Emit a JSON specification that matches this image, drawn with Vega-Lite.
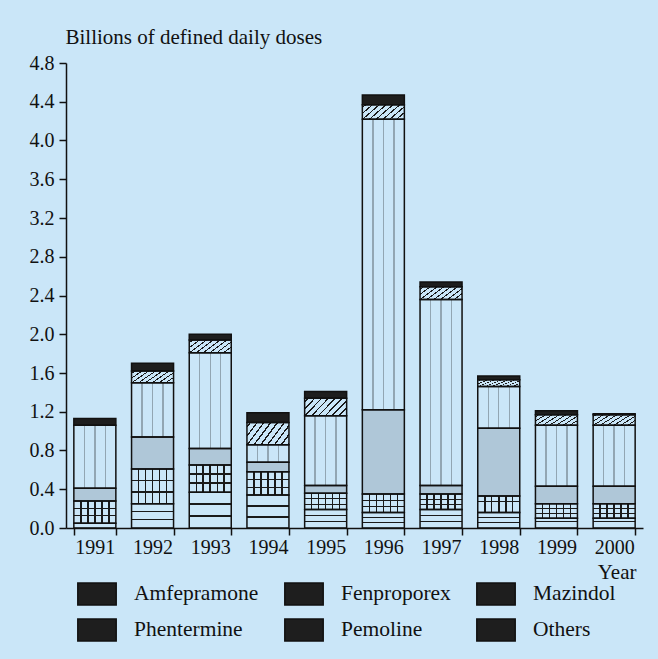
{
  "$schema": "https://vega.github.io/schema/vega-lite/v6.json",
  "autosize": "none",
  "width": 577,
  "height": 465,
  "padding": {"left": 66, "top": 63, "right": 15, "bottom": 131},
  "background": "#cae6f8",
  "config": {
    "view": {"stroke": null},
    "font": "Liberation Serif",
    "axis": {"labelFont": "Liberation Serif", "titleFont": "Liberation Serif", "labelColor": "#111", "titleColor": "#111", "domainColor": "#111", "tickColor": "#111", "domainWidth": 1.5, "tickWidth": 1.5, "tickSize": 7, "grid": false, "titleFontWeight": "normal"}
  },
  "data": {
    "values": [
      {"year": "1991", "drug": "Amfepramone", "value": 0.05},
      {"year": "1991", "drug": "Fenproporex", "value": 0.23},
      {"year": "1991", "drug": "Mazindol", "value": 0.13},
      {"year": "1991", "drug": "Phentermine", "value": 0.65},
      {"year": "1991", "drug": "Others", "value": 0.07},
      {"year": "1992", "drug": "Amfepramone", "value": 0.25},
      {"year": "1992", "drug": "Fenproporex", "value": 0.36},
      {"year": "1992", "drug": "Mazindol", "value": 0.33},
      {"year": "1992", "drug": "Phentermine", "value": 0.56},
      {"year": "1992", "drug": "Pemoline", "value": 0.12},
      {"year": "1992", "drug": "Others", "value": 0.08},
      {"year": "1993", "drug": "Amfepramone", "value": 0.37},
      {"year": "1993", "drug": "Fenproporex", "value": 0.28},
      {"year": "1993", "drug": "Mazindol", "value": 0.17},
      {"year": "1993", "drug": "Phentermine", "value": 0.99},
      {"year": "1993", "drug": "Pemoline", "value": 0.13},
      {"year": "1993", "drug": "Others", "value": 0.06},
      {"year": "1994", "drug": "Amfepramone", "value": 0.34},
      {"year": "1994", "drug": "Fenproporex", "value": 0.24},
      {"year": "1994", "drug": "Mazindol", "value": 0.10},
      {"year": "1994", "drug": "Phentermine", "value": 0.18},
      {"year": "1994", "drug": "Pemoline", "value": 0.23},
      {"year": "1994", "drug": "Others", "value": 0.10},
      {"year": "1995", "drug": "Amfepramone", "value": 0.19},
      {"year": "1995", "drug": "Fenproporex", "value": 0.17},
      {"year": "1995", "drug": "Mazindol", "value": 0.08},
      {"year": "1995", "drug": "Phentermine", "value": 0.72},
      {"year": "1995", "drug": "Pemoline", "value": 0.18},
      {"year": "1995", "drug": "Others", "value": 0.07},
      {"year": "1996", "drug": "Amfepramone", "value": 0.16},
      {"year": "1996", "drug": "Fenproporex", "value": 0.19},
      {"year": "1996", "drug": "Mazindol", "value": 0.87},
      {"year": "1996", "drug": "Phentermine", "value": 3.00},
      {"year": "1996", "drug": "Pemoline", "value": 0.15},
      {"year": "1996", "drug": "Others", "value": 0.10},
      {"year": "1997", "drug": "Amfepramone", "value": 0.19},
      {"year": "1997", "drug": "Fenproporex", "value": 0.16},
      {"year": "1997", "drug": "Mazindol", "value": 0.09},
      {"year": "1997", "drug": "Phentermine", "value": 1.92},
      {"year": "1997", "drug": "Pemoline", "value": 0.13},
      {"year": "1997", "drug": "Others", "value": 0.05},
      {"year": "1998", "drug": "Amfepramone", "value": 0.16},
      {"year": "1998", "drug": "Fenproporex", "value": 0.17},
      {"year": "1998", "drug": "Mazindol", "value": 0.70},
      {"year": "1998", "drug": "Phentermine", "value": 0.43},
      {"year": "1998", "drug": "Pemoline", "value": 0.07},
      {"year": "1998", "drug": "Others", "value": 0.04},
      {"year": "1999", "drug": "Amfepramone", "value": 0.10},
      {"year": "1999", "drug": "Fenproporex", "value": 0.15},
      {"year": "1999", "drug": "Mazindol", "value": 0.18},
      {"year": "1999", "drug": "Phentermine", "value": 0.63},
      {"year": "1999", "drug": "Pemoline", "value": 0.11},
      {"year": "1999", "drug": "Others", "value": 0.04},
      {"year": "2000", "drug": "Amfepramone", "value": 0.10},
      {"year": "2000", "drug": "Fenproporex", "value": 0.15},
      {"year": "2000", "drug": "Mazindol", "value": 0.18},
      {"year": "2000", "drug": "Phentermine", "value": 0.63},
      {"year": "2000", "drug": "Pemoline", "value": 0.11},
      {"year": "2000", "drug": "Others", "value": 0.01}
    ]
  },
  "transform": [
    {"stack": "value", "groupby": ["year"], "as": ["v0", "v1"]}
  ],
  "encoding": {
    "x": {
      "field": "year", "type": "ordinal",
      "scale": {"paddingInner": 0.272, "paddingOuter": 0.136},
      "axis": {"title": "Year", "labelAngle": 0, "labelFontSize": 20, "labelPadding": 2, "tickBand": "extent", "titleFontSize": 21, "titleAnchor": "end", "titleAlign": "right", "titleX": 570, "titleY": 50, "titleBaseline": "alphabetic"}
    },
    "y": {
      "field": "v0", "type": "quantitative",
      "scale": {"domain": [0, 4.8], "nice": false},
      "axis": {"title": "Billions of defined daily doses", "values": [0, 0.4, 0.8, 1.2, 1.6, 2.0, 2.4, 2.8, 3.2, 3.6, 4.0, 4.4, 4.8], "format": ".1f", "labelFontSize": 20, "labelPadding": 5, "titleFontSize": 21, "titleAngle": 0, "titleAlign": "left", "titleX": -1, "titleY": -20, "titleBaseline": "alphabetic"}
    },
    "y2": {"field": "v1"}
  },
  "layer": [
    {
      "transform": [{"filter": "datum.drug === 'Amfepramone'"}],
      "mark": {"type": "bar", "strokeWidth": 0},
      "encoding": {
        "fill": {"value": {"gradient": "linear", "x1": 0, "y1": 0, "x2": 0, "y2": 1, "stops": [
          {"offset": 0, "color": "rgba(0,0,0,0)"}, {"offset": 0.31, "color": "rgba(0,0,0,0)"}, {"offset": 0.31, "color": "#1a1a1a"}, {"offset": 0.36, "color": "#1a1a1a"}, {"offset": 0.36, "color": "rgba(0,0,0,0)"}, {"offset": 0.64, "color": "rgba(0,0,0,0)"}, {"offset": 0.64, "color": "#1a1a1a"}, {"offset": 0.69, "color": "#1a1a1a"}, {"offset": 0.69, "color": "rgba(0,0,0,0)"}, {"offset": 1, "color": "rgba(0,0,0,0)"}
        ]}}
      }
    },
    {
      "transform": [{"filter": "datum.drug === 'Fenproporex'"}],
      "mark": {"type": "bar", "strokeWidth": 0},
      "encoding": {
        "fill": {"value": {"gradient": "linear", "x1": 0, "y1": 0, "x2": 1, "y2": 0, "stops": [
          {"offset": 0, "color": "rgba(0,0,0,0)"}, {"offset": 0.149, "color": "rgba(0,0,0,0)"}, {"offset": 0.149, "color": "#1a1a1a"}, {"offset": 0.185, "color": "#1a1a1a"}, {"offset": 0.185, "color": "rgba(0,0,0,0)"},
          {"offset": 0.315, "color": "rgba(0,0,0,0)"}, {"offset": 0.315, "color": "#1a1a1a"}, {"offset": 0.351, "color": "#1a1a1a"}, {"offset": 0.351, "color": "rgba(0,0,0,0)"},
          {"offset": 0.482, "color": "rgba(0,0,0,0)"}, {"offset": 0.482, "color": "#1a1a1a"}, {"offset": 0.518, "color": "#1a1a1a"}, {"offset": 0.518, "color": "rgba(0,0,0,0)"},
          {"offset": 0.649, "color": "rgba(0,0,0,0)"}, {"offset": 0.649, "color": "#1a1a1a"}, {"offset": 0.685, "color": "#1a1a1a"}, {"offset": 0.685, "color": "rgba(0,0,0,0)"},
          {"offset": 0.815, "color": "rgba(0,0,0,0)"}, {"offset": 0.815, "color": "#1a1a1a"}, {"offset": 0.851, "color": "#1a1a1a"}, {"offset": 0.851, "color": "rgba(0,0,0,0)"},
          {"offset": 1, "color": "rgba(0,0,0,0)"}
        ]}}
      }
    },
    {
      "transform": [{"filter": "datum.drug === 'Fenproporex'"}],
      "mark": {"type": "bar", "strokeWidth": 0},
      "encoding": {
        "fill": {"value": {"gradient": "linear", "x1": 0, "y1": 0, "x2": 0, "y2": 1, "stops": [
          {"offset": 0, "color": "rgba(0,0,0,0)"}, {"offset": 0.308, "color": "rgba(0,0,0,0)"}, {"offset": 0.308, "color": "#1a1a1a"}, {"offset": 0.358, "color": "#1a1a1a"}, {"offset": 0.358, "color": "rgba(0,0,0,0)"},
          {"offset": 0.642, "color": "rgba(0,0,0,0)"}, {"offset": 0.642, "color": "#1a1a1a"}, {"offset": 0.692, "color": "#1a1a1a"}, {"offset": 0.692, "color": "rgba(0,0,0,0)"},
          {"offset": 1, "color": "rgba(0,0,0,0)"}
        ]}}
      }
    },
    {
      "transform": [{"filter": "datum.drug === 'Phentermine'"}],
      "mark": {"type": "bar", "strokeWidth": 0},
      "encoding": {
        "fill": {"value": {"gradient": "linear", "x1": 0, "y1": 0, "x2": 1, "y2": 0, "stops": [
          {"offset": 0, "color": "rgba(0,0,0,0)"}, {"offset": 0.234, "color": "rgba(0,0,0,0)"}, {"offset": 0.234, "color": "rgba(0,0,0,0.28)"}, {"offset": 0.266, "color": "rgba(0,0,0,0.28)"}, {"offset": 0.266, "color": "rgba(0,0,0,0)"},
          {"offset": 0.484, "color": "rgba(0,0,0,0)"}, {"offset": 0.484, "color": "rgba(0,0,0,0.28)"}, {"offset": 0.516, "color": "rgba(0,0,0,0.28)"}, {"offset": 0.516, "color": "rgba(0,0,0,0)"},
          {"offset": 0.734, "color": "rgba(0,0,0,0)"}, {"offset": 0.734, "color": "rgba(0,0,0,0.28)"}, {"offset": 0.766, "color": "rgba(0,0,0,0.28)"}, {"offset": 0.766, "color": "rgba(0,0,0,0)"},
          {"offset": 1, "color": "rgba(0,0,0,0)"}
        ]}}
      }
    },
    {
      "transform": [{"filter": "datum.drug === 'Pemoline'"}],
      "mark": {"type": "bar", "strokeWidth": 0},
      "encoding": {
        "fill": {"value": {"gradient": "linear", "x1": 0, "y1": 0, "x2": 1.4, "y2": 0.56, "stops": [
          {"offset": 0, "color": "rgba(0,0,0,0)"},
          {"offset": 0.038, "color": "rgba(0,0,0,0)"}, {"offset": 0.038, "color": "#1a1a1a"}, {"offset": 0.062, "color": "#1a1a1a"}, {"offset": 0.062, "color": "rgba(0,0,0,0)"},
          {"offset": 0.138, "color": "rgba(0,0,0,0)"}, {"offset": 0.138, "color": "#1a1a1a"}, {"offset": 0.162, "color": "#1a1a1a"}, {"offset": 0.162, "color": "rgba(0,0,0,0)"},
          {"offset": 0.238, "color": "rgba(0,0,0,0)"}, {"offset": 0.238, "color": "#1a1a1a"}, {"offset": 0.262, "color": "#1a1a1a"}, {"offset": 0.262, "color": "rgba(0,0,0,0)"},
          {"offset": 0.338, "color": "rgba(0,0,0,0)"}, {"offset": 0.338, "color": "#1a1a1a"}, {"offset": 0.362, "color": "#1a1a1a"}, {"offset": 0.362, "color": "rgba(0,0,0,0)"},
          {"offset": 0.438, "color": "rgba(0,0,0,0)"}, {"offset": 0.438, "color": "#1a1a1a"}, {"offset": 0.462, "color": "#1a1a1a"}, {"offset": 0.462, "color": "rgba(0,0,0,0)"},
          {"offset": 0.538, "color": "rgba(0,0,0,0)"}, {"offset": 0.538, "color": "#1a1a1a"}, {"offset": 0.562, "color": "#1a1a1a"}, {"offset": 0.562, "color": "rgba(0,0,0,0)"},
          {"offset": 0.638, "color": "rgba(0,0,0,0)"}, {"offset": 0.638, "color": "#1a1a1a"}, {"offset": 0.662, "color": "#1a1a1a"}, {"offset": 0.662, "color": "rgba(0,0,0,0)"},
          {"offset": 0.738, "color": "rgba(0,0,0,0)"}, {"offset": 0.738, "color": "#1a1a1a"}, {"offset": 0.762, "color": "#1a1a1a"}, {"offset": 0.762, "color": "rgba(0,0,0,0)"},
          {"offset": 0.838, "color": "rgba(0,0,0,0)"}, {"offset": 0.838, "color": "#1a1a1a"}, {"offset": 0.862, "color": "#1a1a1a"}, {"offset": 0.862, "color": "rgba(0,0,0,0)"},
          {"offset": 1, "color": "rgba(0,0,0,0)"}
        ]}}
      }
    },
    {
      "transform": [{"filter": "datum.drug === 'Mazindol'"}],
      "mark": {"type": "bar", "strokeWidth": 0, "fill": "#afc7d8"},
      "encoding": {}
    },
    {
      "transform": [{"filter": "datum.drug === 'Others'"}],
      "mark": {"type": "bar", "strokeWidth": 0, "fill": "#1e1e1e"},
      "encoding": {}
    },
    {
      "mark": {"type": "bar", "strokeWidth": 1.5},
      "encoding": {
        "fill": {
          "field": "drug", "type": "nominal", "legend": null,
          "scale": {
            "domain": ["Amfepramone", "Phentermine", "Fenproporex", "Pemoline", "Mazindol", "Others", "none"],
            "range": ["rgba(0,0,0,0)", "rgba(0,0,0,0)", "rgba(0,0,0,0)", "rgba(0,0,0,0)", "rgba(0,0,0,0)", "rgba(0,0,0,0)", "rgba(0,0,0,0)"]
          }
        },
        "stroke": {
          "field": "drug", "type": "nominal",
          "scale": {
            "domain": ["Amfepramone", "Phentermine", "Fenproporex", "Pemoline", "Mazindol", "Others"],
            "range": ["#111111", "#111111", "#111111", "#111111", "#111111", "#111111"]
          },
          "legend": {
            "title": null, "orient": "none", "legendX": 19, "legendY": 519, "columns": 3, "gridAlign": "each",
            "symbolType": "M-1.745,-1H1.745V1H-1.745Z", "symbolSize": 484, "symbolStrokeWidth": 1.5,
            "symbolFillColor": "transparent",
            "labelFont": "Liberation Serif", "labelFontSize": 21.5, "labelColor": "#111", "labelOffset": 25, "labelLimit": 400,
            "columnPadding": 22, "rowPadding": 8, "padding": 0,
            "encode": {"symbols": {"update": {
              "fill": {"condition": [
                {"test": "datum.value === 'Amfepramone'", "value": {"gradient": "linear", "x1": 0, "y1": 0, "x2": 0, "y2": 1, "stops": [
                  {"offset": 0, "color": "rgba(0,0,0,0)"}, {"offset": 0.31, "color": "rgba(0,0,0,0)"}, {"offset": 0.31, "color": "#1a1a1a"}, {"offset": 0.37, "color": "#1a1a1a"}, {"offset": 0.37, "color": "rgba(0,0,0,0)"}, {"offset": 0.63, "color": "rgba(0,0,0,0)"}, {"offset": 0.63, "color": "#1a1a1a"}, {"offset": 0.69, "color": "#1a1a1a"}, {"offset": 0.69, "color": "rgba(0,0,0,0)"}, {"offset": 1, "color": "rgba(0,0,0,0)"}
                ]}},
                {"test": "datum.value === 'Fenproporex'", "value": {"gradient": "linear", "x1": 0, "y1": 0, "x2": 1, "y2": 0, "stops": [
                  {"offset": 0, "color": "rgba(0,0,0,0)"}, {"offset": 0.149, "color": "rgba(0,0,0,0)"}, {"offset": 0.149, "color": "#1a1a1a"}, {"offset": 0.185, "color": "#1a1a1a"}, {"offset": 0.185, "color": "rgba(0,0,0,0)"},
                  {"offset": 0.315, "color": "rgba(0,0,0,0)"}, {"offset": 0.315, "color": "#1a1a1a"}, {"offset": 0.351, "color": "#1a1a1a"}, {"offset": 0.351, "color": "rgba(0,0,0,0)"},
                  {"offset": 0.482, "color": "rgba(0,0,0,0)"}, {"offset": 0.482, "color": "#1a1a1a"}, {"offset": 0.518, "color": "#1a1a1a"}, {"offset": 0.518, "color": "rgba(0,0,0,0)"},
                  {"offset": 0.649, "color": "rgba(0,0,0,0)"}, {"offset": 0.649, "color": "#1a1a1a"}, {"offset": 0.685, "color": "#1a1a1a"}, {"offset": 0.685, "color": "rgba(0,0,0,0)"},
                  {"offset": 0.815, "color": "rgba(0,0,0,0)"}, {"offset": 0.815, "color": "#1a1a1a"}, {"offset": 0.851, "color": "#1a1a1a"}, {"offset": 0.851, "color": "rgba(0,0,0,0)"},
                  {"offset": 1, "color": "rgba(0,0,0,0)"}
                ]}},
                {"test": "datum.value === 'Phentermine'", "value": {"gradient": "linear", "x1": 0, "y1": 0, "x2": 1, "y2": 0, "stops": [
                  {"offset": 0, "color": "rgba(0,0,0,0)"}, {"offset": 0.234, "color": "rgba(0,0,0,0)"}, {"offset": 0.234, "color": "rgba(0,0,0,0.35)"}, {"offset": 0.266, "color": "rgba(0,0,0,0.35)"}, {"offset": 0.266, "color": "rgba(0,0,0,0)"},
                  {"offset": 0.484, "color": "rgba(0,0,0,0)"}, {"offset": 0.484, "color": "rgba(0,0,0,0.35)"}, {"offset": 0.516, "color": "rgba(0,0,0,0.35)"}, {"offset": 0.516, "color": "rgba(0,0,0,0)"},
                  {"offset": 0.734, "color": "rgba(0,0,0,0)"}, {"offset": 0.734, "color": "rgba(0,0,0,0.35)"}, {"offset": 0.766, "color": "rgba(0,0,0,0.35)"}, {"offset": 0.766, "color": "rgba(0,0,0,0)"},
                  {"offset": 1, "color": "rgba(0,0,0,0)"}
                ]}},
                {"test": "datum.value === 'Pemoline'", "value": {"gradient": "linear", "x1": 0, "y1": 0, "x2": 1.4, "y2": 0.56, "stops": [
                  {"offset": 0, "color": "rgba(0,0,0,0)"},
                  {"offset": 0.038, "color": "rgba(0,0,0,0)"}, {"offset": 0.038, "color": "#1a1a1a"}, {"offset": 0.062, "color": "#1a1a1a"}, {"offset": 0.062, "color": "rgba(0,0,0,0)"},
                  {"offset": 0.138, "color": "rgba(0,0,0,0)"}, {"offset": 0.138, "color": "#1a1a1a"}, {"offset": 0.162, "color": "#1a1a1a"}, {"offset": 0.162, "color": "rgba(0,0,0,0)"},
                  {"offset": 0.238, "color": "rgba(0,0,0,0)"}, {"offset": 0.238, "color": "#1a1a1a"}, {"offset": 0.262, "color": "#1a1a1a"}, {"offset": 0.262, "color": "rgba(0,0,0,0)"},
                  {"offset": 0.338, "color": "rgba(0,0,0,0)"}, {"offset": 0.338, "color": "#1a1a1a"}, {"offset": 0.362, "color": "#1a1a1a"}, {"offset": 0.362, "color": "rgba(0,0,0,0)"},
                  {"offset": 0.438, "color": "rgba(0,0,0,0)"}, {"offset": 0.438, "color": "#1a1a1a"}, {"offset": 0.462, "color": "#1a1a1a"}, {"offset": 0.462, "color": "rgba(0,0,0,0)"},
                  {"offset": 0.538, "color": "rgba(0,0,0,0)"}, {"offset": 0.538, "color": "#1a1a1a"}, {"offset": 0.562, "color": "#1a1a1a"}, {"offset": 0.562, "color": "rgba(0,0,0,0)"},
                  {"offset": 0.638, "color": "rgba(0,0,0,0)"}, {"offset": 0.638, "color": "#1a1a1a"}, {"offset": 0.662, "color": "#1a1a1a"}, {"offset": 0.662, "color": "rgba(0,0,0,0)"},
                  {"offset": 0.738, "color": "rgba(0,0,0,0)"}, {"offset": 0.738, "color": "#1a1a1a"}, {"offset": 0.762, "color": "#1a1a1a"}, {"offset": 0.762, "color": "rgba(0,0,0,0)"},
                  {"offset": 0.838, "color": "rgba(0,0,0,0)"}, {"offset": 0.838, "color": "#1a1a1a"}, {"offset": 0.862, "color": "#1a1a1a"}, {"offset": 0.862, "color": "rgba(0,0,0,0)"},
                  {"offset": 1, "color": "rgba(0,0,0,0)"}
                ]}},
                {"test": "datum.value === 'Mazindol'", "value": "#afc7d8"}
              ], "value": "#1e1e1e"},
              "strokeWidth": {"value": 1.5},
              "opacity": {"value": 1}
            }}}
          }
        }
      }
    }
  ]
}
